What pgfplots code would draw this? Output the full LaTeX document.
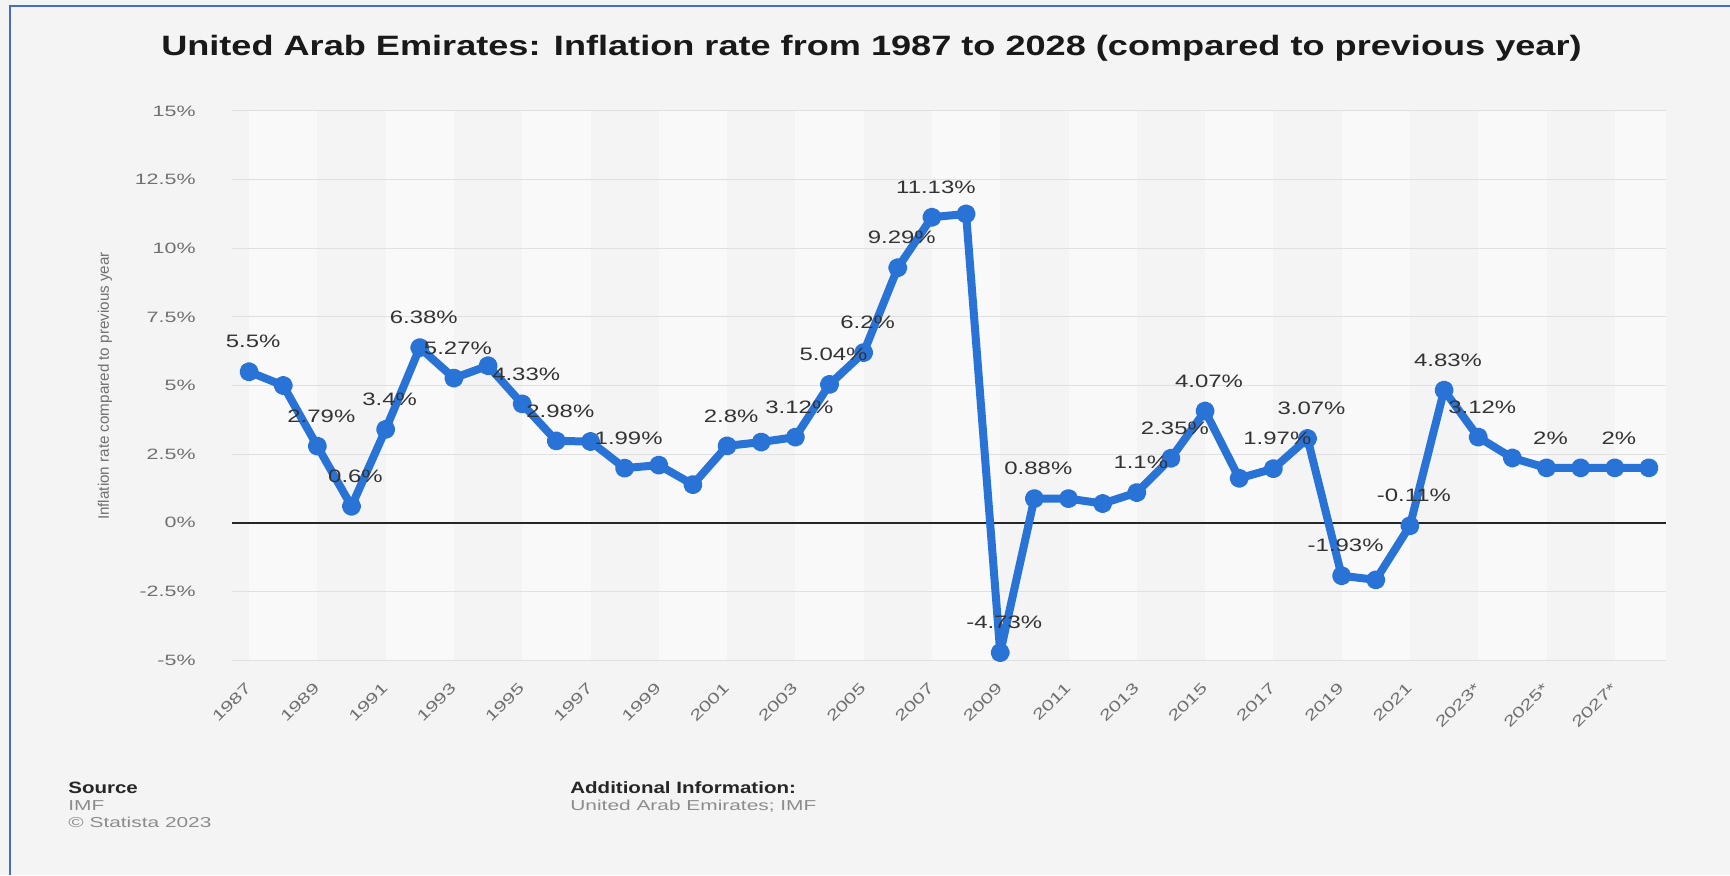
\documentclass[border=0pt]{standalone}
\usepackage{pgfplots}
\usepackage{pgfplotstable}
\pgfplotsset{compat=1.18}
\usepackage{fontspec}
\setmainfont{Liberation Sans}
\newfontfamily\titlefont[FakeStretch=1.29]{Liberation Sans}
\newfontfamily\tickfont[FakeStretch=1.43]{Liberation Sans}
\newfontfamily\labfont[FakeStretch=1.33]{Liberation Sans}
\newfontfamily\footfont[FakeStretch=1.25]{Liberation Sans}
\newfontfamily\grayfont[FakeStretch=1.45]{Liberation Sans}
\newfontfamily\ylabfont{Liberation Sans}

\definecolor{bg}{RGB}{244,244,244}
\definecolor{band}{RGB}{249,249,249}
\definecolor{framecol}{RGB}{68,108,200}
\definecolor{statblue}{RGB}{41,115,214}
\definecolor{tickgray}{RGB}{112,112,112}
\definecolor{labgray}{RGB}{51,51,51}
\definecolor{gridgray}{RGB}{224,224,224}
\definecolor{footgray}{RGB}{140,140,140}

\pgfplotstableread{
year val
1987 5.5
1988 5.0
1989 2.79
1990 0.6
1991 3.4
1992 6.38
1993 5.27
1994 5.72
1995 4.33
1996 2.98
1997 2.96
1998 1.99
1999 2.1
2000 1.39
2001 2.8
2002 2.94
2003 3.12
2004 5.04
2005 6.2
2006 9.29
2007 11.13
2008 11.25
2009 -4.73
2010 0.88
2011 0.88
2012 0.7
2013 1.1
2014 2.35
2015 4.07
2016 1.62
2017 1.97
2018 3.07
2019 -1.93
2020 -2.08
2021 -0.11
2022 4.83
2023 3.12
2024 2.36
2025 2
2026 2
2027 2
2028 2
}\datatable

\pgfplotstableread{
year val
1987 5.5
1989 2.79
1990 0.6
1991 3.4
1992 6.38
1993 5.27
1995 4.33
1996 2.98
1998 1.99
2001 2.8
2003 3.12
2004 5.04
2005 6.2
2006 9.29
2007 11.13
2009 -4.73
2010 0.88
2013 1.1
2014 2.35
2015 4.07
2017 1.97
2018 3.07
2019 -1.93
2021 -0.11
2022 4.83
2023 3.12
2025 2
2027 2
}\labeltable

\pgfplotsset{
  geom/.style={
    at={(116pt,107.5pt)}, anchor=south west,
    width=717pt, height=274.5pt, scale only axis,
    xmin=1986.5, xmax=2028.5, ymin=-5, ymax=15,
  }
}

\begin{document}
\begin{tikzpicture}
\fill[bg] (0,0) rectangle (865pt,437.5pt);
\path[use as bounding box] (0,0) rectangle (865pt,437.5pt);
\draw[framecol, line width=1pt] (5pt,0) -- (5pt,434.5pt) -- (865pt,434.5pt);
\node[font=\titlefont\bfseries\fontsize{14pt}{16pt}\selectfont, anchor=base, text=black!90, inner sep=0pt] at (435.75pt,409.5pt) {United Arab Emirates: Inflation rate from 1987 to 2028 (compared to previous year)};

% background bands
\begin{axis}[geom, hide axis]
\fill[band] (axis cs:1987,-5) rectangle (axis cs:1989,15);
\fill[band] (axis cs:1991,-5) rectangle (axis cs:1993,15);
\fill[band] (axis cs:1995,-5) rectangle (axis cs:1997,15);
\fill[band] (axis cs:1999,-5) rectangle (axis cs:2001,15);
\fill[band] (axis cs:2003,-5) rectangle (axis cs:2005,15);
\fill[band] (axis cs:2007,-5) rectangle (axis cs:2009,15);
\fill[band] (axis cs:2011,-5) rectangle (axis cs:2013,15);
\fill[band] (axis cs:2015,-5) rectangle (axis cs:2017,15);
\fill[band] (axis cs:2019,-5) rectangle (axis cs:2021,15);
\fill[band] (axis cs:2023,-5) rectangle (axis cs:2025,15);
\fill[band] (axis cs:2027,-5) rectangle (axis cs:2028.5,15);
\end{axis}

\begin{axis}[
  geom, clip=false,
  axis line style={draw=none},
  major tick length=0pt,
  ymajorgrids, grid style={gridgray, line width=0.5pt},
  xtick={1987,1989,...,2027},
  xticklabels={1987,1989,1991,1993,1995,1997,1999,2001,2003,2005,2007,2009,2011,2013,2015,2017,2019,2021,2023*,2025*,2027*},
  ytick={-5,-2.5,0,2.5,5,7.5,10,12.5,15},
  yticklabels={-5\%,-2.5\%,0\%,2.5\%,5\%,7.5\%,10\%,12.5\%,15\%},
  yticklabel style={font=\tickfont\fontsize{7.5pt}{9pt}\selectfont, text=tickgray, anchor=east, inner sep=0pt, xshift=-18pt},
  xticklabel style={font=\tickfont\fontsize{7.5pt}{9pt}\selectfont, text=tickgray, rotate=45, anchor=east, inner sep=0pt, xshift=-9.1pt, yshift=-8.8pt},
]
\draw[black!85, line width=0.9pt] (axis cs:1986.5,0) -- (axis cs:2028.5,0);

\addplot[statblue, line width=4pt, line join=round, mark=*, mark size=2.8pt,
  mark options={solid, fill=statblue, draw=none}] table[x=year,y=val]{\datatable};

\addplot[only marks, mark=none, point meta=y,
  nodes near coords={\pgfmathprintnumber[fixed,precision=2,assume math mode=true]{\pgfplotspointmeta}\%},
  every node near coord/.append style={font=\labfont\fontsize{9pt}{11pt}\selectfont, text=labgray, anchor=center, yshift=15pt, xshift=2pt}
  ] table[x=year,y=val]{\labeltable};
\end{axis}

\node[rotate=90, font=\ylabfont\fontsize{7.6pt}{9pt}\selectfont, text=tickgray] at (52.5pt,244.5pt) {Inflation rate compared to previous year};

\node[anchor=base west, inner sep=0pt, font=\footfont\bfseries\fontsize{8.2pt}{10pt}\selectfont, text=black!85] at (34pt,41pt) {Source};
\node[anchor=base west, inner sep=0pt, font=\grayfont\fontsize{7.2pt}{9pt}\selectfont, text=footgray] at (34pt,32.25pt) {IMF};
\node[anchor=base west, inner sep=0pt, font=\grayfont\fontsize{7.2pt}{9pt}\selectfont, text=footgray] at (34pt,23.75pt) {© Statista 2023};
\node[anchor=base west, inner sep=0pt, font=\footfont\bfseries\fontsize{8.2pt}{10pt}\selectfont, text=black!85] at (285pt,41pt) {Additional Information:};
\node[anchor=base west, inner sep=0pt, font=\grayfont\fontsize{7.2pt}{9pt}\selectfont, text=footgray] at (285pt,32.25pt) {United Arab Emirates; IMF};
\end{tikzpicture}
\end{document}
